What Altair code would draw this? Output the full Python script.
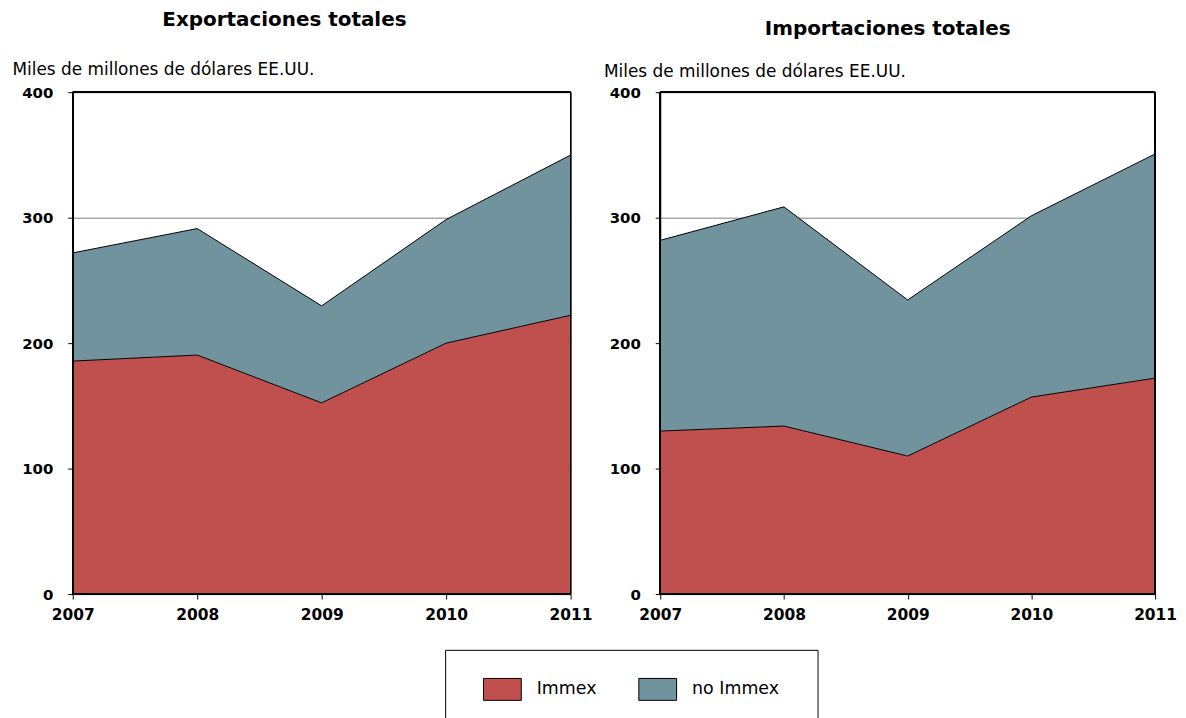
import altair as alt
import pandas as pd

years = [2007, 2008, 2009, 2010, 2011]
series = ["Immex", "no Immex"]
colors = ["#C0504D", "#71939E"]

exp_immex = [185.7, 190.5, 152.4, 200.0, 222.2]
exp_no_immex = [86.2, 100.8, 77.3, 98.5, 127.7]
imp_immex = [129.9, 133.9, 110.0, 157.0, 172.1]
imp_no_immex = [152.0, 174.7, 124.4, 144.5, 178.7]

y_ticks = [0, 100, 200, 300, 400]
unit_label = "Miles de millones de dólares EE.UU."
FONT = "DejaVu Sans"


def make_df(immex, no_immex):
    rows = []
    for yr, a, b in zip(years, immex, no_immex):
        rows.append({"year": yr, "serie": series[0], "valor": a, "orden": 0})
        rows.append({"year": yr, "serie": series[1], "valor": b, "orden": 1})
    return pd.DataFrame(rows)


legend = alt.Legend(
    title=" ",
    titleOrient="right",
    titleFontSize=10,
    titlePadding=11,
    orient="none",
    legendX=374,
    legendY=560,
    direction="horizontal",
    strokeColor="black",
    padding=28,
    symbolType="M-0.09,-1H3.36V1H-0.09Z",
    symbolSize=484,
    symbolStrokeColor="black",
    symbolStrokeWidth=1,
    symbolOpacity=1,
    labelFont=FONT,
    labelFontSize=17.5,
    labelColor="black",
    labelOffset=41,
    columnPadding=31,
)


def panel(df, title, title_dx, title_offset, w, h, ytx, yty):
    xscale = alt.Scale(domain=[years[0], years[-1]], nice=False, zero=False)
    yscale = alt.Scale(domain=[0, 400], nice=False)
    xaxis = alt.Axis(
        values=years, format="d", title=None, grid=False,
        labelFont=FONT, labelFontSize=15.5, labelFontWeight="bold",
        labelColor="black", labelPadding=9, tickSize=5,
        tickColor="black", domainColor="black", labelFlush=False,
    )
    yaxis = alt.Axis(
        values=y_ticks, title=unit_label, titleAngle=0, titleAlign="left",
        titleBaseline="alphabetic", titleX=ytx, titleY=yty,
        titleFont=FONT, titleFontSize=17, titleFontWeight="normal",
        titleColor="black",
        labelFont=FONT, labelFontSize=15, labelFontWeight="bold",
        labelColor="black", labelPadding=15, tickSize=5,
        tickColor="black", domainColor="black",
        grid=True, gridColor="#808080", gridWidth=1,
    )
    area = alt.Chart(df).mark_area(opacity=1).encode(
        x=alt.X("year:Q", scale=xscale, axis=xaxis),
        y=alt.Y("valor:Q", stack="zero", scale=yscale, axis=yaxis),
        color=alt.Color("serie:N", scale=alt.Scale(domain=series, range=colors), legend=legend),
        order=alt.Order("orden:Q", sort="ascending"),
    )
    line = alt.Chart(df).transform_window(
        top="sum(valor)", groupby=["year"], sort=[alt.SortField("orden")], frame=[None, 0]
    ).mark_line(color="black", strokeWidth=1).encode(
        x=alt.X("year:Q", scale=xscale, axis=xaxis),
        y=alt.Y("top:Q", scale=yscale, axis=yaxis),
        detail="serie:N",
    )
    frame = alt.Chart(df).mark_rect(fill=None, stroke="black", strokeWidth=1).encode(
        x=alt.value(0), x2=alt.value(w), y=alt.value(0), y2=alt.value(h),
    )
    return alt.layer(area, line, frame).properties(
        width=w, height=h,
        title=alt.TitleParams(
            title, anchor="start", frame="group", dx=title_dx, offset=title_offset,
            font=FONT, fontSize=20, fontWeight="bold", color="black",
        ),
    )


left = panel(make_df(exp_immex, exp_no_immex), "Exportaciones totales", 90, 30, 500, 504, -61, -18)
right = panel(make_df(imp_immex, imp_no_immex), "Importaciones totales", 105, 23, 497, 504, -57, -16)

chart = alt.hconcat(left, right, spacing=90, bounds="flush").properties(
    padding={"left": 3, "top": 0, "right": 0, "bottom": 5}
).configure_view(
    stroke="black", strokeWidth=1
).configure(background="white")

chart.save("out.html", embed_options={"renderer": "svg", "actions": False})
